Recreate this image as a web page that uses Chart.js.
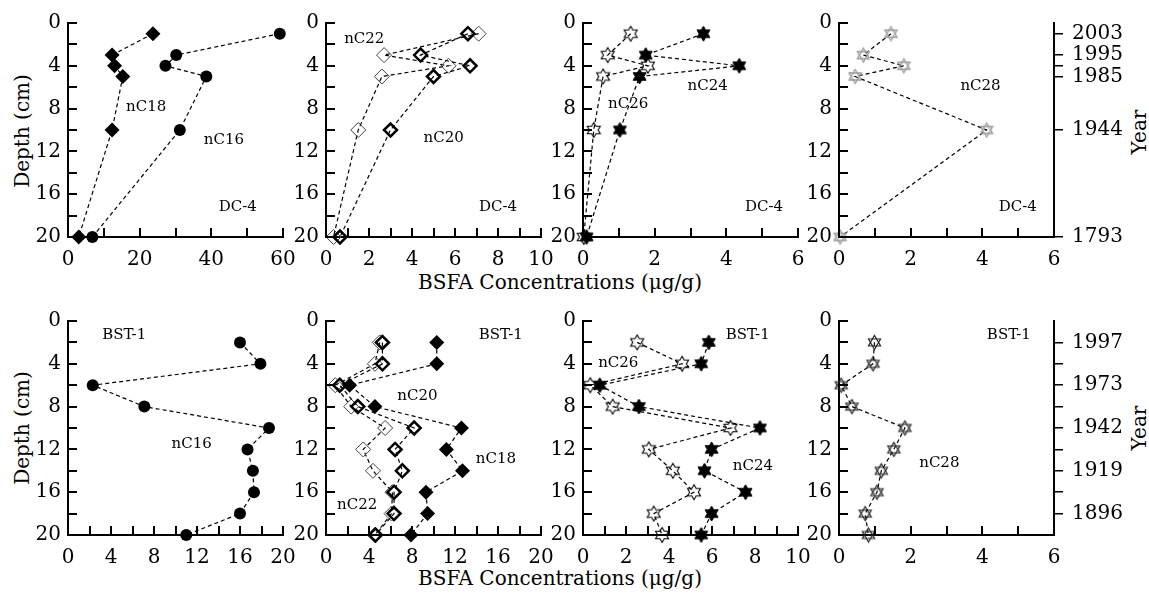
<!DOCTYPE html>
<html>
<head>
<meta charset="utf-8">
<script src="https://cdn.jsdelivr.net/npm/chart.js@4.4.1/dist/chart.umd.min.js"></script>
<style>
  body { margin: 0; background: #fff; width: 1149px; height: 601px; overflow: hidden; position: relative; font-family: 'DejaVu Serif', serif; }
  canvas { position: absolute; }
  .t { position: absolute; font-size: 20px; white-space: nowrap; color: #000; }
  .r { transform: translate(-50%, -50%) rotate(-90deg); }
  .c { transform: translate(-50%, -50%); }
</style>
</head>
<body>
<div class="t r" style="left:22px;top:131px">Depth (cm)</div>
<div class="t r" style="left:22px;top:428px">Depth (cm)</div>
<div class="t r" style="left:1139px;top:132px">Year</div>
<div class="t r" style="left:1139px;top:428px">Year</div>
<div class="t c" style="left:560px;top:282px">BSFA Concentrations (μg/g)</div>
<div class="t c" style="left:560px;top:578px">BSFA Concentrations (μg/g)</div>

<script>
// depth (cm) of each sample
const depthDC = [1, 3, 4, 5, 10, 20];
const depthBST = [2, 4, 6, 8, 10, 12, 14, 16, 18, 20];

// DC-4 core, µg/g
const dcC16 = [59.1, 30.2, 27.2, 38.6, 31.2, 6.8];
const dcC18 = [23.7, 12.3, 13.0, 15.3, 12.3, 3.0];
const dcC20 = [6.6, 4.4, 6.7, 5.0, 3.0, 0.65];
const dcC22 = [7.1, 2.7, 5.7, 2.6, 1.5, 0.35];
const dcC24 = [3.36, 1.75, 4.36, 1.58, 1.03, 0.1];
const dcC26 = [1.33, 0.69, 1.81, 0.56, 0.30, 0.02];
const dcC28 = [1.45, 0.68, 1.81, 0.45, 4.12, 0.03];

// BST-1 core, µg/g
const bstC16 = [16.0, 17.9, 2.3, 7.1, 18.7, 16.7, 17.2, 17.3, 16.0, 11.0];
const bstC18 = [10.3, 10.3, 2.2, 4.55, 12.6, 11.2, 12.7, 9.3, 9.45, 7.9];
const bstC20 = [5.25, 5.25, 1.28, 2.96, 8.2, 6.43, 7.1, 6.33, 6.33, 4.6];
const bstC22 = [5.0, 4.55, 0.87, 2.34, 5.5, 3.46, 4.37, 6.18, 6.1, 4.55];
const bstC24 = [5.85, 5.5, 0.78, 2.6, 8.23, 5.98, 5.65, 7.56, 5.98, 5.5];
const bstC26 = [2.52, 4.61, 0.34, 1.38, 6.86, 3.06, 4.18, 5.16, 3.29, 3.68];
const bstC28 = [0.99, 0.95, 0.06, 0.36, 1.84, 1.53, 1.18, 1.06, 0.73, 0.82];

// year axis
const yearDepthDC = [1, 3, 4, 5, 10, 20];
const yearLabelDC = ['2003', '1995', '', '1985', '1944', '1793'];
const yearDepthBST = [2, 4, 6, 8, 10, 12, 14, 16, 18];
const yearLabelBST = ['1997', '', '1973', '', '1942', '', '1919', '', '1896'];

const FONT = 'DejaVu Serif';
const AXW = 45, XAH = 45, PADT = 15, PLOT_W = 215, PLOT_H = 214, TICK = 9;
const plotLefts = [68, 326, 583, 839];
const rowTops = [23, 321];

// hexagram markers as small canvases
function starImg(r, fill, stroke, lw, david) {
  const s = Math.ceil(r * 2 + lw * 2 + 2);
  const c = document.createElement('canvas');
  c.width = c.height = s;
  const g = c.getContext('2d');
  const cx = s / 2, cy = s / 2;
  g.lineWidth = lw;
  g.strokeStyle = stroke;
  g.fillStyle = fill || '#000';
  if (david) {
    [-Math.PI / 2, Math.PI / 2].forEach(a0 => {
      g.beginPath();
      for (let i = 0; i < 3; i++) {
        const a = a0 + i * 2 * Math.PI / 3;
        g.lineTo(cx + r * Math.cos(a), cy + r * Math.sin(a));
      }
      g.closePath();
      g.stroke();
    });
  } else {
    g.beginPath();
    for (let i = 0; i < 12; i++) {
      const a = -Math.PI / 2 + i * Math.PI / 6;
      const rr = i % 2 ? r * 0.577 : r;
      g.lineTo(cx + rr * Math.cos(a), cy + rr * Math.sin(a));
    }
    g.closePath();
    if (fill) g.fill();
    g.stroke();
  }
  return c;
}

const MARKERS = {
  circle: { pointStyle: 'circle', pointRadius: 6, pointBackgroundColor: '#000', pointBorderColor: '#000', pointBorderWidth: 0 },
  diamond: { pointStyle: 'rectRot', pointRadius: 7.5, pointBackgroundColor: '#000', pointBorderColor: '#000', pointBorderWidth: 0 },
  boldDiamond: { pointStyle: 'rectRot', pointRadius: 6.5, pointBackgroundColor: 'rgba(0,0,0,0)', pointBorderColor: '#000', pointBorderWidth: 2.5 },
  openDiamond: { pointStyle: 'rectRot', pointRadius: 7.5, pointBackgroundColor: 'rgba(0,0,0,0)', pointBorderColor: '#444', pointBorderWidth: 1 },
  star: { pointStyle: starImg(7.5, '#000', '#000', 1, false), pointRadius: 7 },
  openStar: { pointStyle: starImg(7.5, null, '#000', 1.1, false), pointRadius: 7 },
  greyDavid: { pointStyle: starImg(7, null, '#999', 1.3, true), pointRadius: 7 },
  darkDavid: { pointStyle: starImg(7, null, '#222', 1.2, true), pointRadius: 7 }
};

const panels = [
  { row: 0, col: 0, xmax: 60, step: 10, every: 20,
    sets: [[dcC16, 'circle'], [dcC18, 'diamond']],
    notes: [['nC18', 21.8, 7.85], ['nC16', 43.5, 10.9], ['DC-4', 47.4, 17.2]] },
  { row: 0, col: 1, xmax: 10, step: 1, every: 2,
    sets: [[dcC20, 'boldDiamond'], [dcC22, 'openDiamond']],
    notes: [['nC22', 1.78, 1.5], ['nC20', 5.47, 10.8], ['DC-4', 8.0, 17.2]] },
  { row: 0, col: 2, xmax: 6, step: 1, every: 2,
    sets: [[dcC24, 'star'], [dcC26, 'openStar']],
    notes: [['nC26', 1.26, 7.57], ['nC24', 3.48, 5.9], ['DC-4', 5.05, 17.2]] },
  { row: 0, col: 3, xmax: 6, step: 1, every: 2,
    sets: [[dcC28, 'greyDavid']],
    notes: [['nC28', 3.95, 5.9], ['DC-4', 4.99, 17.2]],
    years: [yearDepthDC, yearLabelDC] },
  { row: 1, col: 0, xmax: 20, step: 2, every: 4,
    sets: [[bstC16, 'circle']],
    notes: [['BST-1', 5.23, 1.3], ['nC16', 11.5, 11.5]] },
  { row: 1, col: 1, xmax: 20, step: 2, every: 4,
    sets: [[bstC18, 'diamond'], [bstC20, 'boldDiamond'], [bstC22, 'openDiamond']],
    notes: [['BST-1', 16.26, 1.3], ['nC20', 8.5, 7.0], ['nC18', 15.8, 12.9], ['nC22', 2.9, 17.2]] },
  { row: 1, col: 2, xmax: 10, step: 1, every: 2,
    sets: [[bstC24, 'star'], [bstC26, 'openStar']],
    notes: [['BST-1', 7.66, 1.3], ['nC26', 1.64, 3.9], ['nC24', 7.9, 13.55]] },
  { row: 1, col: 3, xmax: 6, step: 1, every: 2,
    sets: [[bstC28, 'darkDavid']],
    notes: [['BST-1', 4.74, 1.3], ['nC28', 2.8, 13.3]],
    years: [yearDepthBST, yearLabelBST] }
];

// text labels placed in data units
const notePlugin = {
  id: 'notes',
  afterDatasetsDraw(chart, args, opts) {
    const ctx = chart.ctx;
    const sx = chart.scales.x, sy = chart.scales.y;
    ctx.save();
    ctx.font = '15px "' + FONT + '"';
    ctx.fillStyle = '#000';
    ctx.textAlign = 'center';
    ctx.textBaseline = 'middle';
    (opts.items || []).forEach(([txt, x, y]) => {
      ctx.fillText(txt, sx.getPixelForValue(x), sy.getPixelForValue(y));
    });
    ctx.restore();
  }
};

// inward tick marks at the scales' own ticks, drawn last
const inTickPlugin = {
  id: 'inTicks',
  afterDraw(chart) {
    const ctx = chart.ctx, a = chart.chartArea;
    const sx = chart.scales.x, sy = chart.scales.y;
    ctx.save();
    ctx.globalAlpha = 1;
    ctx.globalCompositeOperation = 'source-over';
    ctx.strokeStyle = '#000';
    ctx.lineWidth = 2;
    ctx.setLineDash([]);
    ctx.beginPath();
    sx.ticks.forEach(t => {
      const px = Math.round(sx.getPixelForValue(t.value));
      ctx.moveTo(px, a.bottom);
      ctx.lineTo(px, a.bottom - TICK);
    });
    sy.ticks.forEach(t => {
      const py = Math.round(sy.getPixelForValue(t.value));
      ctx.moveTo(a.left, py);
      ctx.lineTo(a.left + TICK, py);
    });
    ctx.stroke();
    ctx.restore();
  }
};

// keep the plot area where the layout puts it: no extra label padding
const zeroPad = s => { s.paddingTop = 0; s.paddingBottom = 0; s.paddingLeft = 0; s.paddingRight = 0; };

const tickFont = { family: FONT, size: 20 };
const noGrid = { display: false, drawTicks: false };
const borderOpts = { display: true, color: '#000', width: 2 };

panels.forEach(p => {
  const depths = p.row === 0 ? depthDC : depthBST;
  const rightW = p.years ? 80 : 15;
  const cv = document.createElement('canvas');
  cv.width = AXW + PLOT_W + rightW;
  cv.height = PADT + PLOT_H + XAH;
  cv.style.left = (plotLefts[p.col] - AXW) + 'px';
  cv.style.top = (rowTops[p.row] - PADT) + 'px';
  document.body.appendChild(cv);

  const scales = {
    x: {
      type: 'linear', min: 0, max: p.xmax, position: 'bottom',
      ticks: { stepSize: p.step, autoSkip: false, maxRotation: 0, padding: 11, color: '#000', font: tickFont,
        callback: v => (v % p.every === 0 ? String(v) : '') },
      grid: noGrid,
      border: borderOpts,
      afterFit: s => { s.height = XAH; zeroPad(s); }
    },
    y: {
      type: 'linear', min: 0, max: 20, reverse: true, position: 'left',
      ticks: { stepSize: 2, autoSkip: false, padding: 7, color: '#000', font: tickFont,
        callback: v => (v % 4 === 0 ? String(v) : '') },
      grid: noGrid,
      border: borderOpts,
      afterFit: s => { s.width = AXW; zeroPad(s); }
    }
  };
  if (p.years) {
    const [yd, yl] = p.years;
    scales.year = {
      type: 'linear', min: 0, max: 20, reverse: true, position: 'right',
      afterBuildTicks: s => { s.ticks = yd.map(v => ({ value: v })); },
      ticks: { autoSkip: false, padding: 9, color: '#000', font: tickFont, callback: (v, i) => yl[i] },
      grid: { drawOnChartArea: false, drawTicks: true, tickLength: TICK, color: '#000', lineWidth: 1.5 },
      border: borderOpts,
      afterFit: s => { s.width = rightW; zeroPad(s); }
    };
  }

  new Chart(cv, {
    type: 'scatter',
    data: {
      datasets: p.sets.map(([vals, mk]) => Object.assign({
        data: vals.map((v, i) => ({ x: v, y: depths[i] })),
        showLine: true,
        borderColor: '#000',
        borderWidth: 1.2,
        borderDash: [4, 3],
        clip: false
      }, MARKERS[mk]))
    },
    options: {
      responsive: false,
      animation: false,
      events: [],
      devicePixelRatio: 1,
      layout: { padding: { top: PADT, right: p.years ? 0 : rightW, left: 0, bottom: 0 } },
      plugins: { legend: { display: false }, tooltip: { enabled: false }, notes: { items: p.notes } },
      scales: scales
    },
    plugins: [notePlugin, inTickPlugin]
  });
});
</script>
</body>
</html>
